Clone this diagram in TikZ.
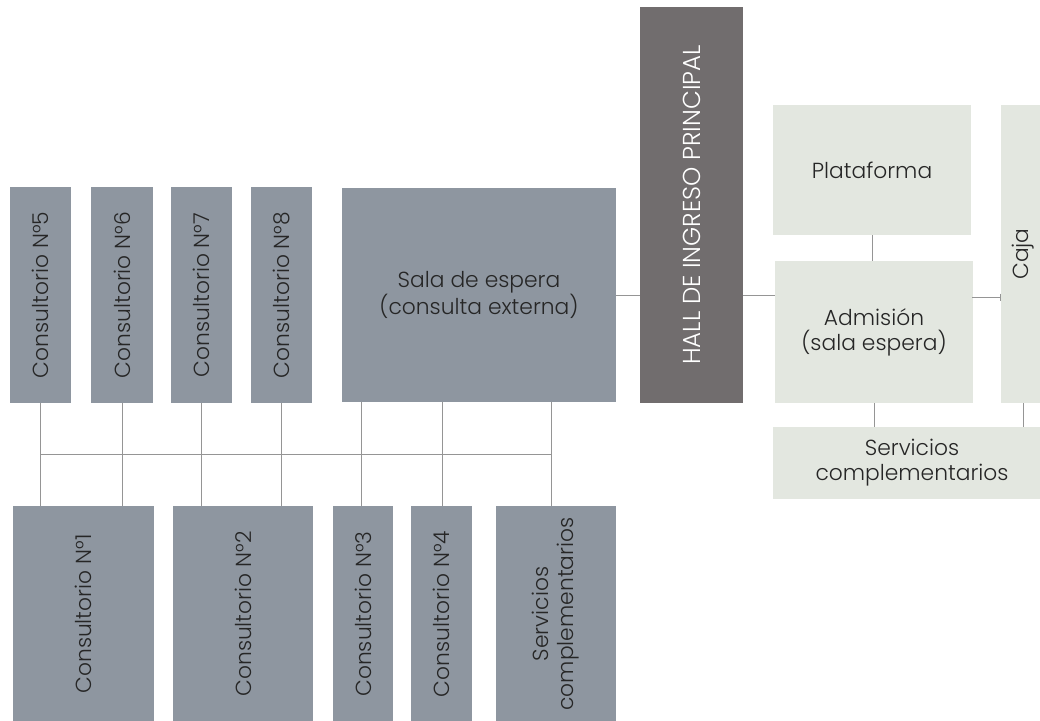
\documentclass[tikz,border=0pt]{standalone}
\usepackage{fontspec}
\IfFontExistsTF{Poppins Light}{\setmainfont{Poppins Light}}{\setmainfont{Poppins}}
\usetikzlibrary{arrows.meta,calc}
\definecolor{slate}{HTML}{8E96A0}
\definecolor{hallc}{HTML}{716D6E}
\definecolor{pale}{HTML}{E3E7E0}
\definecolor{lnc}{HTML}{959595}
\definecolor{txt}{HTML}{262626}
\begin{document}
\begin{tikzpicture}[x=1pt,y=-1pt,
  box/.style={rectangle,inner sep=0pt,outer sep=0pt,align=center,text=txt},
  gbox/.style={box,fill=slate},
  pbox/.style={box,fill=pale},
  hbox/.style={box,fill=hallc,text=white},
  conn/.style={draw=lnc,line width=0.8pt},
  lbl/.style={font=\fontsize{21.8}{25}\selectfont},
  hlbl/.style={font=\fontsize{24.5}{28}\selectfont}]
\useasboundingbox (0,0) rectangle (1040,720);
% top row
\node[gbox,lbl,minimum width=61,minimum height=216] (c5) at (40.5,295) {\rotatebox{90}{Consultorio N°5}};
\node[gbox,lbl,minimum width=62,minimum height=216] (c6) at (122,295) {\rotatebox{90}{Consultorio N°6}};
\node[gbox,lbl,minimum width=61,minimum height=216] (c7) at (201.5,295) {\rotatebox{90}{Consultorio N°7}};
\node[gbox,lbl,minimum width=61,minimum height=216] (c8) at (281.5,295) {\rotatebox{90}{Consultorio N°8}};
\node[gbox,lbl,minimum width=274,minimum height=214] (sala) at (479,295) {Sala de espera\\(consulta externa)};
\node[hbox,hlbl,minimum width=103,minimum height=396] (hall) at (691.5,205) {\rotatebox{90}{HALL DE INGRESO PRINCIPAL}};
\node[pbox,lbl,minimum width=198,minimum height=130] (plat) at (872,170) {Plataforma};
\node[pbox,lbl,minimum width=198,minimum height=142] (adm) at (874,332) {Admisión\\(sala espera)};
\node[pbox,lbl,minimum width=45,minimum height=298] (caja) at (1023.5,254) {\rotatebox{90}{Caja}};
\node[pbox,lbl,minimum width=278,minimum height=72] (servR) at (912,463) {Servicios\\complementarios};
% bottom row
\node[gbox,lbl,minimum width=141,minimum height=216] (c1) at (83.5,614) {\rotatebox{90}{Consultorio N°1}};
\node[gbox,lbl,minimum width=140,minimum height=216] (c2) at (243,614) {\rotatebox{90}{Consultorio N°2}};
\node[gbox,lbl,minimum width=60,minimum height=216] (c3) at (363,614) {\rotatebox{90}{Consultorio N°3}};
\node[gbox,lbl,minimum width=61,minimum height=216] (c4) at (441.5,614) {\rotatebox{90}{Consultorio N°4}};
\node[gbox,lbl,minimum width=120,minimum height=216] (servB) at (556,614) {\rotatebox{90}{\begin{tabular}{@{}c@{}}Servicios\\complementarios\end{tabular}}};
% connectors
\coordinate (busL) at (40.5,454);
\coordinate (busR) at (551,454);
\draw[conn] (busL) -- (busR);
\draw[conn] (c5.south) -- (c5.south |- c1.north);
\draw[conn] (c6.south) -- (c6.south |- c1.north);
\draw[conn] (c7.south) -- (c7.south |- c2.north);
\draw[conn] (c8.south) -- (c8.south |- c2.north);
\coordinate (s1) at (361,402);
\coordinate (s2) at (442,402);
\coordinate (s3) at (551,402);
\draw[conn] (s1) -- (s1 |- c3.north);
\draw[conn] (s2) -- (s2 |- c4.north);
\draw[conn] (s3) -- (s3 |- servB.north);
\draw[conn] (sala.east) -- (sala.east -| hall.west);
\draw[conn] (hall.east |- sala.east) -- (adm.west |- sala.east);
\draw[conn] (plat.south) -- (plat.south |- adm.north);
\coordinate (a2c) at (972,297);
\draw[conn,-{Bar[width=7pt,line width=0.8pt]}] (a2c) -- (a2c -| caja.west);
\draw[conn] (adm.south) -- (adm.south |- servR.north);
\draw[conn] (caja.south) -- (caja.south |- servR.north);
\end{tikzpicture}
\end{document}
